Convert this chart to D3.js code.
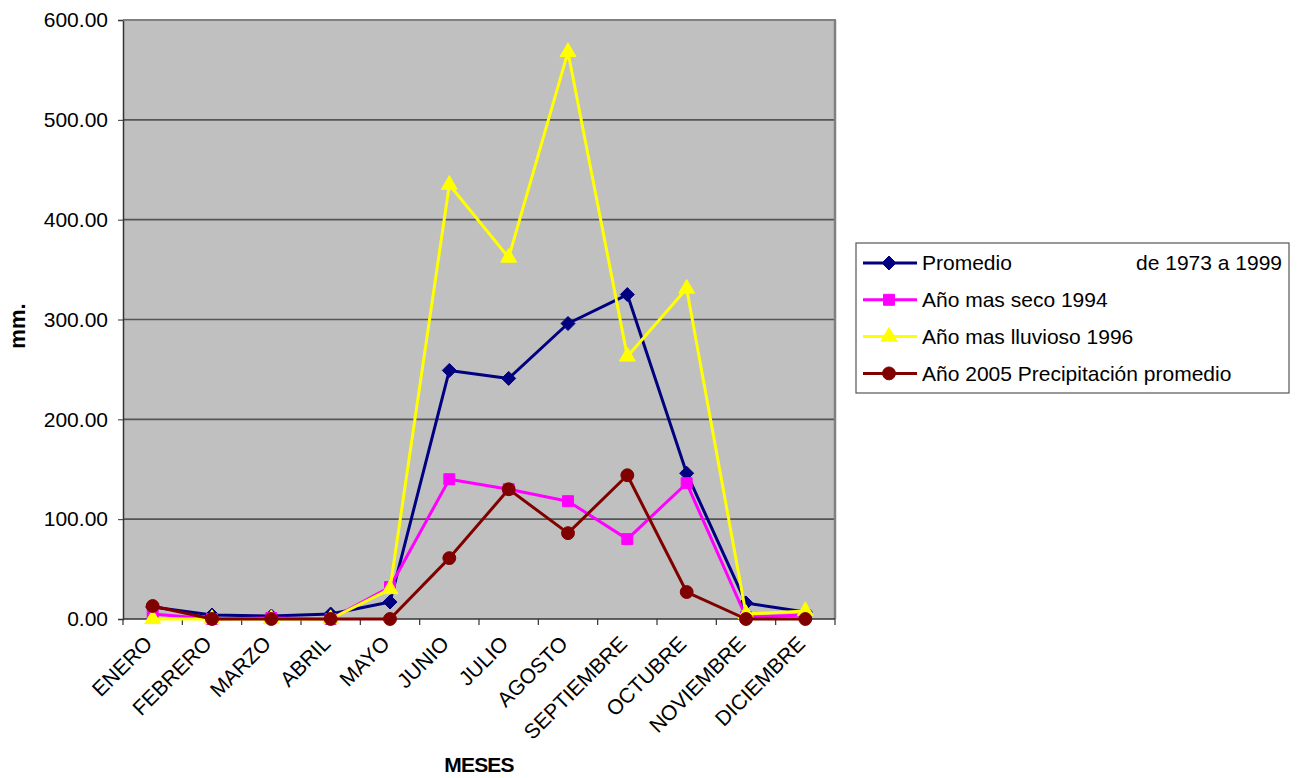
<!DOCTYPE html>
<html>
<head>
<meta charset="utf-8">
<script src="https://cdn.jsdelivr.net/npm/d3@7"></script>
<style>
  html, body { margin: 0; padding: 0; background: #fff; }
  svg { display: block; font-family: Arial, "Liberation Sans", sans-serif; }
</style>
</head>
<body>
<svg id="chart" width="1300" height="778"></svg>
<script>
// Monthly precipitation (mm)
const months = ["ENERO","FEBRERO","MARZO","ABRIL","MAYO","JUNIO","JULIO","AGOSTO","SEPTIEMBRE","OCTUBRE","NOVIEMBRE","DICIEMBRE"];
const promedio   = [12, 4, 3, 5, 17, 249, 241, 296, 325, 146, 16, 7];
const anoSeco    = [5, 0, 1, 0, 32, 140, 130, 118, 80, 136, 2, 4];
const anoLluvioso= [0, 0, 0, 0, 30, 435, 362, 568, 263, 331, 5, 8];
const ano2005    = [13, 0, 0, 0, 0, 61, 130, 86, 144, 27, 0, 0];
const yTicks = [0, 100, 200, 300, 400, 500, 600];

const series = [
  { name: "Promedio", extra: "de 1973 a 1999", values: promedio, color: "#000080", marker: "diamond" },
  { name: "Año mas seco 1994", values: anoSeco, color: "#FF00FF", marker: "square" },
  { name: "Año mas lluvioso 1996", values: anoLluvioso, color: "#FFFF00", marker: "triangle" },
  { name: "Año 2005 Precipitación promedio", values: ano2005, color: "#800000", marker: "circle" }
];

const FS = 21;
const svg = d3.select("#chart");
const plot = { left: 123, right: 835, top: 20, bottom: 619 };

const x = d3.scaleBand().domain(months).range([plot.left, plot.right]);
const cx = m => x(m) + x.bandwidth() / 2;
const y = d3.scaleLinear().domain([0, 600]).range([plot.bottom, plot.top]);

// plot background
svg.append("rect")
  .attr("x", plot.left).attr("y", plot.top)
  .attr("width", plot.right - plot.left).attr("height", plot.bottom - plot.top)
  .attr("fill", "#C0C0C0");

// horizontal gridlines
svg.append("g").selectAll("line").data(yTicks.filter(d => d > 0)).join("line")
  .attr("x1", plot.left).attr("x2", plot.right)
  .attr("y1", d => y(d)).attr("y2", d => y(d))
  .attr("stroke", "#555").attr("stroke-width", 1.6);

// right frame edge
svg.append("line")
  .attr("x1", plot.right).attr("x2", plot.right)
  .attr("y1", plot.top).attr("y2", plot.bottom)
  .attr("stroke", "#808080").attr("stroke-width", 2.5);

// y axis
const yAxis = d3.axisLeft(y).tickValues(yTicks).tickFormat(d3.format(".2f"))
  .tickSize(5).tickPadding(10);
const gy = svg.append("g").attr("transform", `translate(${plot.left},0)`).call(yAxis);
gy.select(".domain").attr("stroke", "#333").attr("stroke-width", 1.5);
gy.selectAll(".tick line").attr("stroke", "#333");
gy.selectAll(".tick text").attr("font-size", FS).attr("fill", "#000")
  .attr("font-family", "Arial, 'Liberation Sans', sans-serif");

// x axis line and boundary ticks
svg.append("line")
  .attr("x1", plot.left).attr("x2", plot.right)
  .attr("y1", plot.bottom).attr("y2", plot.bottom)
  .attr("stroke", "#333").attr("stroke-width", 1.5);
const edges = months.map(m => x(m)).concat([plot.right]);
svg.append("g").selectAll("line").data(edges).join("line")
  .attr("x1", d => d).attr("x2", d => d)
  .attr("y1", plot.bottom).attr("y2", plot.bottom + 6)
  .attr("stroke", "#333").attr("stroke-width", 1.2);

// rotated month labels
svg.append("g").selectAll("text").data(months).join("text")
  .attr("transform", d => `translate(${cx(d) + 1},${plot.bottom + 26}) rotate(-45)`)
  .attr("text-anchor", "end")
  .attr("font-size", FS)
  .attr("fill", "#000")
  .text(d => d);

// axis titles
svg.append("text")
  .attr("x", 479).attr("y", 772)
  .attr("text-anchor", "middle")
  .attr("font-size", FS).attr("font-weight", "bold")
  .attr("letter-spacing", -0.8)
  .text("MESES");
svg.append("text")
  .attr("transform", "translate(25,326) rotate(-90)")
  .attr("text-anchor", "middle")
  .attr("font-size", 22).attr("font-weight", "bold")
  .text("mm.");

// marker shapes
function markerPath(type) {
  switch (type) {
    case "diamond": {
      const r = 7;
      return `M0,${-r}L${r},0L0,${r}L${-r},0Z`;
    }
    case "square": return d3.symbol(d3.symbolSquare, 120)();
    case "triangle": return d3.symbol(d3.symbolTriangle, 110)();
    default: return d3.symbol(d3.symbolCircle, 130)();
  }
}

const line = d3.line().x(d => cx(d.m)).y(d => y(d.v));

series.forEach(s => {
  const pts = months.map((m, i) => ({ m, v: s.values[i] }));
  const g = svg.append("g");
  g.append("path").datum(pts)
    .attr("d", line)
    .attr("fill", "none")
    .attr("stroke", s.color)
    .attr("stroke-width", 3)
    .attr("stroke-linejoin", "round");
  g.selectAll("path.mk").data(pts).join("path")
    .attr("class", "mk")
    .attr("d", markerPath(s.marker))
    .attr("transform", d => `translate(${cx(d.m)},${y(d.v)})`)
    .attr("fill", s.color)
    .attr("stroke", s.color)
    .attr("stroke-width", 1);
});

// top frame edge drawn over the lines
svg.append("line")
  .attr("x1", plot.left).attr("x2", plot.right + 1)
  .attr("y1", plot.top).attr("y2", plot.top)
  .attr("stroke", "#808080").attr("stroke-width", 2);

// legend
const lg = svg.append("g");
lg.append("rect")
  .attr("x", 856).attr("y", 243).attr("width", 433).attr("height", 150)
  .attr("fill", "#fff").attr("stroke", "#555").attr("stroke-width", 1.2);
series.forEach((s, i) => {
  const ly = 263 + i * 36.8;
  lg.append("line")
    .attr("x1", 863).attr("x2", 917).attr("y1", ly).attr("y2", ly)
    .attr("stroke", s.color).attr("stroke-width", 3);
  lg.append("path")
    .attr("d", markerPath(s.marker))
    .attr("transform", `translate(889,${ly})`)
    .attr("fill", s.color).attr("stroke", s.color);
  lg.append("text")
    .attr("x", 922).attr("y", ly).attr("dy", "0.35em")
    .attr("font-size", FS).attr("fill", "#000")
    .text(s.name);
  if (s.extra) {
    lg.append("text")
      .attr("x", 1282).attr("y", ly).attr("dy", "0.35em")
      .attr("text-anchor", "end")
      .attr("font-size", FS).attr("fill", "#000")
      .text(s.extra);
  }
});
</script>
</body>
</html>
